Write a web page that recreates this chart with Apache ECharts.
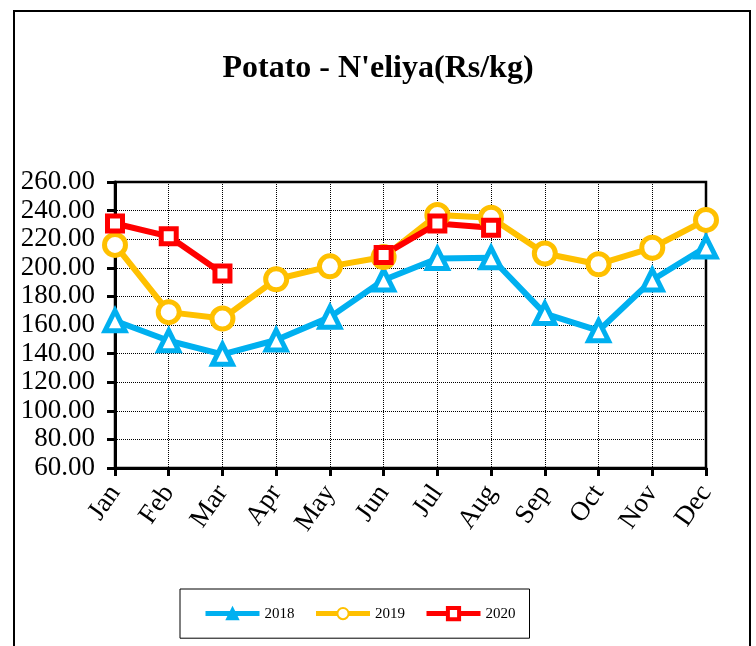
<!DOCTYPE html>
<html>
<head>
<meta charset="utf-8">
<script src="https://cdn.jsdelivr.net/npm/echarts@6/dist/echarts.min.js"></script>
<style>
html,body{margin:0;padding:0;background:#fff;}
#main{width:756px;height:646px;}
</style>
</head>
<body>
<div id="main"></div>
<script>
var months = ['Jan','Feb','Mar','Apr','May','Jun','Jul','Aug','Sep','Oct','Nov','Dec'];
var y2018 = [163, 149, 139.5, 149.5, 165.5, 191.5, 206.5, 207, 168, 156, 191.5, 214.5];
var y2019 = [216, 169, 164.5, 192, 201, 207.5, 237, 235, 210, 202.5, 214, 233.5];
var y2020 = [231, 222, 196, null, null, 209, 231, 228, null, null, null, null];

var chart = echarts.init(document.getElementById('main'));
var font = 'Liberation Serif, Times New Roman, serif';

function mk(name, data, color, symbol, size, bw) {
    return {
        name: name,
        type: 'line',
        data: data,
        connectNulls: false,
        symbol: symbol,
        symbolSize: size,
        lineStyle: {color: color, width: 6},
        itemStyle: {color: '#fff', borderColor: color, borderWidth: bw},
        emphasis: {disabled: true}
    };
}

var option = {
    animation: false,
    textStyle: {fontFamily: font},
    title: {
        text: "Potato - N'eliya(Rs/kg)",
        left: 'center',
        top: 48,
        textStyle: {fontFamily: font, fontSize: 32, fontWeight: 'bold', color: '#000'}
    },
    graphic: [{
        type: 'rect',
        shape: {x: 14, y: 11, width: 736, height: 660},
        style: {fill: null, stroke: '#000', lineWidth: 2},
        silent: true
    }],
    legend: {
        top: 589,
        left: 180,
        padding: [17, 14, 17, 23],
        borderColor: '#000',
        borderWidth: 1,
        itemWidth: 54,
        itemHeight: 14,
        itemGap: 19,
        lineStyle: {width: 5},
        textStyle: {fontFamily: font, fontSize: 15, color: '#000'},
        data: [
            {name: '2018', itemStyle: {color: '#00b0f0', borderColor: '#00b0f0'}},
            {name: '2019'},
            {name: '2020', itemStyle: {color: '#fff', borderColor: '#ff0000', borderWidth: 4}}
        ]
    },
    grid: {
        left: 115, right: 50, top: 182, bottom: 178,
        show: true, borderColor: '#000', borderWidth: 2.5
    },
    xAxis: {
        type: 'category',
        data: months,
        boundaryGap: false,
        axisLine: {lineStyle: {color: '#000', width: 3}},
        axisTick: {show: true, inside: false, length: 8, lineStyle: {color: '#000', width: 3}},
        splitLine: {show: true, lineStyle: {color: '#000', type: 'dotted', width: 1}},
        axisLabel: {rotate: 55, fontFamily: font, fontSize: 27, color: '#000', margin: 20}
    },
    yAxis: {
        type: 'value',
        min: 60, max: 260, interval: 20,
        axisLine: {show: true, lineStyle: {color: '#000', width: 3}},
        axisTick: {show: true, length: 8, lineStyle: {color: '#000', width: 3}},
        splitLine: {show: true, lineStyle: {color: '#000', type: 'dotted', width: 1}},
        axisLabel: {fontFamily: font, fontSize: 27, color: '#000', margin: 20,
            formatter: function (v) { return v.toFixed(2); }}
    },
    series: [
        mk('2018', y2018, '#00b0f0', 'triangle', 20, 5),
        mk('2019', y2019, '#ffc000', 'circle', 21, 5),
        mk('2020', y2020, '#ff0000', 'rect', 15, 5)
    ]
};
chart.setOption(option);
</script>
</body>
</html>
